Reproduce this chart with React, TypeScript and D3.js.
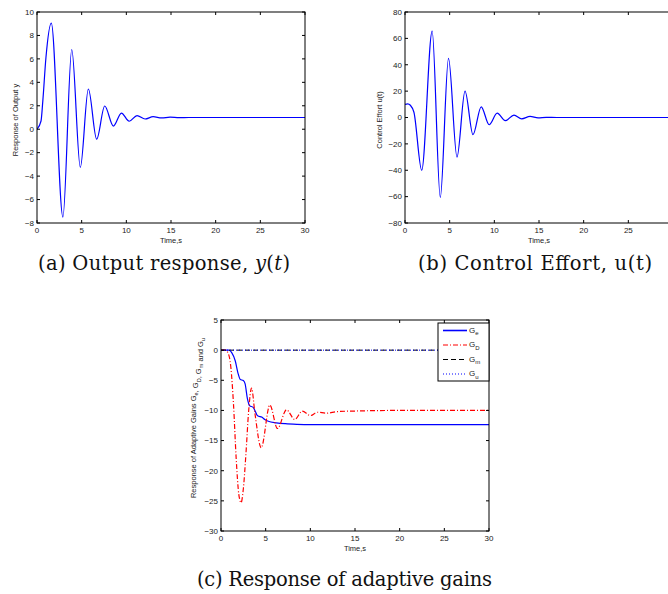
import React from 'react'
import * as d3 from 'd3'

// values: [time, value]
const timeTicks = [0, 5, 10, 15, 20, 25, 30]
const outputTicks = [-8, -6, -4, -2, 0, 2, 4, 6, 8, 10]
const effortTicks = [-80, -60, -40, -20, 0, 20, 40, 60, 80]
const gainTicks = [-30, -25, -20, -15, -10, -5, 0, 5]

const outputY: [number, number][] = [
  [0, 0], [0.45, 0.7], [0.65, 2.4], [1.0, 6.1], [1.6, 9.05], [2.9, -7.5], [3.89, 6.8],
  [4.85, -3.25], [5.75, 3.43], [6.68, -0.85], [7.58, 1.98], [8.55, 0.27], [9.45, 1.38],
  [10.32, 0.68], [11.2, 1.16], [12.1, 0.87], [13.0, 1.07], [13.95, 0.96], [14.9, 1.03],
  [15.9, 0.99], [17, 1.0], [30, 1.0],
]

const controlU: [number, number][] = [
  [0, 10], [0.3, 10.4], [0.6, 9.3], [1.0, 4], [1.87, -40], [3.04, 65.5], [3.95, -60.5],
  [4.87, 44.8], [5.82, -30], [6.72, 20], [7.61, -13], [8.53, 8.1], [9.42, -5.5],
  [10.32, 3.3], [11.23, -2.4], [12.2, 1.8], [13.06, -1.0], [14.0, 0.8], [14.9, -0.3],
  [15.8, 0.15], [17, 0], [30, 0],
]

const gainE: [number, number][] = [
  [0, 0], [0.9, 0], [1.2, -0.4], [1.6, -1.8], [1.9, -3.8], [2.15, -4.85], [2.5, -5.05],
  [2.7, -5.6], [2.95, -8.0], [3.2, -9.2], [3.6, -9.5], [3.85, -10.2], [4.1, -10.9],
  [4.6, -11.15], [4.9, -11.5], [5.3, -11.8], [6.2, -12.05], [7.2, -12.2], [8.5, -12.3],
  [10, -12.35], [30, -12.35],
]

const gainD: [number, number][] = [
  [0, 0], [0.5, 0], [0.8, -0.5], [1.1, -2.8], [1.4, -9], [1.7, -18], [2.0, -24],
  [2.25, -25.3], [2.5, -23], [2.8, -17], [3.1, -10], [3.42, -6.3], [3.8, -10.5],
  [4.5, -16.2], [5.47, -9.1], [6.32, -13.0], [7.33, -9.9], [8.26, -11.5], [9.1, -10.1],
  [10, -10.85], [10.8, -10.3], [11.8, -10.45], [13, -10.2], [15, -10.1], [20, -10.0], [30, -10.0],
]

const gainM: [number, number][] = [[0, 0], [30, 0]]
const gainU: [number, number][] = [[0, 0], [30, 0]]

const W = 668
const H = 594
const fmt = (v: number) => (v < 0 ? '\u2212' + Math.abs(v) : String(v))

type Box = { x0: number; x1: number; y0: number; y1: number }

const Sub = ({ base, sub, size }: { base: string; sub: string; size: number }) => (
  <>
    <tspan>{base}</tspan>
    <tspan dy={size * 0.3} fontSize={size * 0.75}>{sub}</tspan>
    <tspan dy={-size * 0.3}></tspan>
  </>
)

const Axes = ({ box, yDomain, yTicks, xLabel, yLabel, yLabelX, yLabelY, series }: {
  box: Box
  yDomain: [number, number]
  yTicks: number[]
  xLabel: string
  yLabel: React.ReactNode
  yLabelX: number
  yLabelY?: number
  series: { data: [number, number][]; color: string; dash?: string; width?: number }[]
}) => {
  const x = d3.scaleLinear().domain([0, 30]).range([box.x0, box.x1])
  const y = d3.scaleLinear().domain(yDomain).range([box.y1, box.y0])
  const line = d3.line<[number, number]>()
    .x(d => x(d[0]))
    .y(d => y(d[1]))
    .curve(d3.curveMonotoneX)
  const tl = 3
  const clipId = `clip-${box.x0}-${box.y0}`
  const ly = yLabelY ?? (box.y0 + box.y1) / 2
  return (
    <g fontFamily="'Liberation Sans', Arial, sans-serif" fill="#222">
      <defs>
        <clipPath id={clipId}>
          <rect x={box.x0} y={box.y0} width={box.x1 - box.x0} height={box.y1 - box.y0} />
        </clipPath>
      </defs>
      <rect x={box.x0} y={box.y0} width={box.x1 - box.x0} height={box.y1 - box.y0} fill="#fff" />
      <g clipPath={`url(#${clipId})`}>
        {series.map((s, i) => (
          <path key={i} d={line(s.data) ?? ''} fill="none" stroke={s.color}
            strokeWidth={s.width ?? 1.2} strokeDasharray={s.dash} />
        ))}
      </g>
      {timeTicks.map(t => (
        <g key={'x' + t}>
          <line x1={x(t)} x2={x(t)} y1={box.y1} y2={box.y1 - tl} stroke="#000" />
          <line x1={x(t)} x2={x(t)} y1={box.y0} y2={box.y0 + tl} stroke="#000" />
          {x(t) + 5 < W && (
            <text x={x(t)} y={box.y1 + 9.5} fontSize={8} textAnchor="middle">{fmt(t)}</text>
          )}
        </g>
      ))}
      {yTicks.map(v => (
        <g key={'y' + v}>
          <line x1={box.x0} x2={box.x0 + tl} y1={y(v)} y2={y(v)} stroke="#000" />
          <line x1={box.x1} x2={box.x1 - tl} y1={y(v)} y2={y(v)} stroke="#000" />
          <text x={box.x0 - 3} y={y(v)} dy="0.35em" fontSize={8} textAnchor="end">{fmt(v)}</text>
        </g>
      ))}
      <rect x={box.x0} y={box.y0} width={box.x1 - box.x0} height={box.y1 - box.y0}
        fill="none" stroke="#000" strokeWidth={1} />
      <text x={(box.x0 + box.x1) / 2} y={box.y1 + 19.5} fontSize={7.5} textAnchor="middle">{xLabel}</text>
      <text transform={`translate(${yLabelX},${ly}) rotate(-90)`} fontSize={7.5} textAnchor="middle">{yLabel}</text>
    </g>
  )
}

const legendItems = [
  { sub: 'e', color: '#0000ff', dash: undefined },
  { sub: 'D', color: '#ff0000', dash: '5 2 1 2' },
  { sub: 'm', color: '#000', dash: '5 3' },
  { sub: 'u', color: '#0000ff', dash: '1 2' },
]

const App = () => {
  const boxA = { x0: 37, x1: 305, y0: 12, y1: 223 }
  const boxB = { x0: 405, x1: 673, y0: 12, y1: 223 }
  const boxC = { x0: 221, x1: 489, y0: 320, y1: 531 }
  const lg = { x: 438, y: 323, w: 51, h: 58 }
  const cap = "'DejaVu Serif', 'Liberation Serif', serif"
  return (
    <svg width={W} height={H} style={{ position: 'absolute', left: 0, top: 0, background: '#fff' }}>
      <Axes box={boxA} yDomain={[-8, 10]} yTicks={outputTicks} xLabel="Time,s"
        yLabel="Response of Output y" yLabelX={17.5} yLabelY={120}
        series={[{ data: outputY, color: '#0000ff' }]} />
      <Axes box={boxB} yDomain={[-80, 80]} yTicks={effortTicks} xLabel="Time,s"
        yLabel="Control Effort u(t)" yLabelX={382} yLabelY={120}
        series={[{ data: controlU, color: '#0000ff' }]} />
      <Axes box={boxC} yDomain={[-30, 5]} yTicks={gainTicks} xLabel="Time,s"
        yLabelX={196} yLabelY={418}
        yLabel={<>
          Response of Adaptive Gains <Sub base="G" sub="e" size={7.5} />, <Sub base="G" sub="D" size={7.5} />, <Sub base="G" sub="m" size={7.5} /> and <Sub base="G" sub="u" size={7.5} />
        </>}
        series={[
          { data: gainE, color: '#0000ff' },
          { data: gainD, color: '#ff0000', dash: '5 2 1 2' },
          { data: gainM, color: '#000', dash: '5 3', width: 1 },
          { data: gainU, color: '#0000ff', dash: '1 2', width: 1 },
        ]} />
      <g fontFamily="'Liberation Sans', Arial, sans-serif" fill="#222">
        <rect x={lg.x} y={lg.y} width={lg.w} height={lg.h} fill="#fff" stroke="#000" />
        {legendItems.map((it, i) => {
          const cy = lg.y + 7.5 + i * 14.5
          return (
            <g key={it.sub}>
              <line x1={lg.x + 5} x2={lg.x + 29} y1={cy} y2={cy} stroke={it.color}
                strokeWidth={i === 0 ? 1.6 : 1.2} strokeDasharray={it.dash} />
              <text x={lg.x + 31} y={cy} dy="0.3em" fontSize={8}><Sub base="G" sub={it.sub} size={8} /></text>
            </g>
          )
        })}
      </g>
      <g fontFamily={cap} fontSize={19.5} fill="#111">
        <text x={38} y={270} textLength={252} lengthAdjust="spacing">(a) Output response, <tspan fontStyle="italic">y</tspan>(<tspan fontStyle="italic">t</tspan>)</text>
        <text x={418} y={270} textLength={234} lengthAdjust="spacing">(b) Control Effort, u(t)</text>
        <text x={197} y={586} textLength={295} lengthAdjust="spacing">(c) Response of adaptive gains</text>
      </g>
    </svg>
  )
}

export default App
